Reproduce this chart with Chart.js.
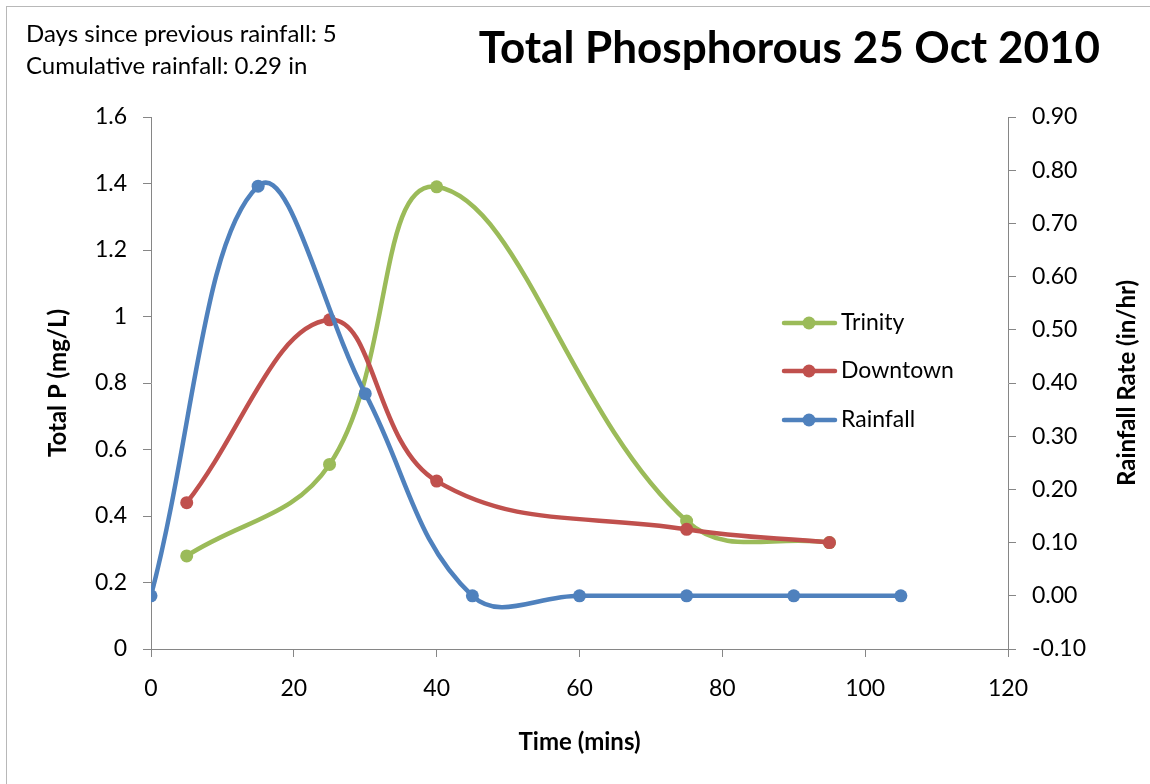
<!DOCTYPE html>
<html>
<head>
<meta charset="utf-8">
<script src="https://cdn.jsdelivr.net/npm/chart.js@4"></script>
<style>
    html, body { margin: 0; padding: 0; background: #fff; }
    #wrap { position: relative; width: 1150px; height: 784px; overflow: hidden; }
    #frame { position: absolute; left: 6px; top: 6px; width: 1200px; height: 900px;
             border-top: 1px solid #b8b8b8; border-left: 1px solid #b8b8b8; }
    canvas { position: absolute; left: 0; top: 0; }
</style>
</head>
<body>
<div id="wrap">
    <div id="frame"></div>
    <canvas id="chart" width="1150" height="784"></canvas>
</div>
<script>
// Data
var chartTitle = 'Total Phosphorous 25 Oct 2010';
var noteLines = ['Days since previous rainfall: 5', 'Cumulative rainfall: 0.29 in'];

var trinityTime = [5, 25, 40, 75, 95];
var trinityP = [0.28, 0.555, 1.39, 0.385, 0.32];

var downtownTime = [5, 25, 40, 75, 95];
var downtownP = [0.44, 0.99, 0.505, 0.36, 0.32];

var rainTime = [0, 15, 30, 45, 60, 75, 90, 105];
var rainRate = [0, 0.77, 0.38, 0, 0, 0, 0, 0];

var seriesNames = ['Trinity', 'Downtown', 'Rainfall'];
var seriesColors = ['#9BBB59', '#C0504D', '#4F81BD'];

var FONT = 'Lato, "Open Sans", sans-serif';
var TEXT_SIZE = 23;
var LABEL_SIZE = 24;

function toPoints(xs, ys) {
    return xs.map(function(x, i) { return { x: x, y: ys[i] }; });
}

// Titles, note text, legend and right axis title
var decorPlugin = {
    id: 'decor',
    afterDraw: function(chart) {
        var ctx = chart.ctx;
        ctx.save();
        ctx.fillStyle = '#000';
        ctx.textBaseline = 'alphabetic';

        // main title
        ctx.font = 'bold 44px ' + FONT;
        ctx.textAlign = 'right';
        ctx.fillText(chartTitle, 1100, 63);

        // note in top-left
        ctx.font = '24px ' + FONT;
        ctx.textAlign = 'left';
        ctx.fillText(noteLines[0], 26, 42);
        ctx.fillText(noteLines[1], 26, 74);

        // legend
        ctx.font = TEXT_SIZE + 'px ' + FONT;
        var rows = [323, 371, 420];
        seriesNames.forEach(function(name, i) {
            var y = rows[i];
            ctx.strokeStyle = seriesColors[i];
            ctx.lineWidth = 4.5;
            ctx.lineCap = 'round';
            ctx.beginPath();
            ctx.moveTo(784, y);
            ctx.lineTo(835, y);
            ctx.stroke();
            ctx.fillStyle = seriesColors[i];
            ctx.beginPath();
            ctx.arc(809, y, 6.5, 0, Math.PI * 2);
            ctx.fill();
            ctx.fillStyle = '#000';
            ctx.textBaseline = 'middle';
            ctx.fillText(name, 841, y);
        });

        // right axis title, reading bottom to top
        ctx.font = 'bold ' + LABEL_SIZE + 'px ' + FONT;
        ctx.textAlign = 'center';
        ctx.textBaseline = 'middle';
        ctx.translate(1127, (chart.chartArea.top + chart.chartArea.bottom) / 2);
        ctx.rotate(-Math.PI / 2);
        ctx.fillText('Rainfall Rate (in/hr)', 0, 0);
        ctx.restore();
    }
};

var axisColor = '#868686';

new Chart(document.getElementById('chart'), {
    type: 'line',
    data: {
        datasets: [
            {
                label: seriesNames[0],
                data: toPoints(trinityTime, trinityP),
                borderColor: seriesColors[0],
                backgroundColor: seriesColors[0],
                yAxisID: 'y',
                order: 3
            },
            {
                label: seriesNames[1],
                data: toPoints(downtownTime, downtownP),
                borderColor: seriesColors[1],
                backgroundColor: seriesColors[1],
                yAxisID: 'y',
                order: 2
            },
            {
                label: seriesNames[2],
                data: toPoints(rainTime, rainRate),
                borderColor: seriesColors[2],
                backgroundColor: seriesColors[2],
                yAxisID: 'y1',
                order: 1
            }
        ]
    },
    options: {
        responsive: false,
        animation: false,
        events: [],
        layout: { padding: { top: 117, left: 0, right: 0, bottom: 0 } },
        elements: {
            line: { borderWidth: 4.5, tension: 0.4, fill: false, borderCapStyle: 'round' },
            point: { radius: 6.5, borderWidth: 0, hoverRadius: 6.5 }
        },
        plugins: {
            legend: { display: false },
            tooltip: { enabled: false },
            title: { display: false }
        },
        scales: {
            x: {
                type: 'linear',
                min: 0,
                max: 120,
                ticks: { stepSize: 20, color: '#000', padding: 18, font: { family: FONT, size: TEXT_SIZE } },
                grid: { drawOnChartArea: false, drawTicks: true, tickLength: 8, color: axisColor },
                border: { display: true, color: axisColor },
                title: {
                    display: true,
                    text: 'Time (mins)',
                    color: '#000',
                    font: { family: FONT, size: LABEL_SIZE, weight: 'bold' },
                    padding: { top: 0, bottom: 27 }
                },
                afterFit: function(scale) { scale.height = 135; }
            },
            y: {
                position: 'left',
                min: 0,
                max: 1.6,
                ticks: {
                    stepSize: 0.2,
                    color: '#000',
                    padding: 16,
                    font: { family: FONT, size: TEXT_SIZE },
                    callback: function(v) { return Math.round(v * 10) / 10; }
                },
                grid: { drawOnChartArea: false, drawTicks: true, tickLength: 8, color: axisColor },
                border: { display: true, color: axisColor },
                title: {
                    display: true,
                    text: 'Total P (mg/L)',
                    color: '#000',
                    font: { family: FONT, size: LABEL_SIZE, weight: 'bold' },
                    padding: { top: 44, bottom: 0 }
                },
                afterFit: function(scale) { scale.width = 151; }
            },
            y1: {
                position: 'right',
                min: -0.1,
                max: 0.9,
                ticks: {
                    stepSize: 0.1,
                    color: '#000',
                    padding: 16,
                    font: { family: FONT, size: TEXT_SIZE },
                    callback: function(v) { return v.toFixed(2); }
                },
                grid: { drawOnChartArea: false, drawTicks: true, tickLength: 8, color: axisColor },
                border: { display: true, color: axisColor },
                afterFit: function(scale) { scale.width = 142; }
            }
        }
    },
    plugins: [decorPlugin]
});
</script>
</body>
</html>
